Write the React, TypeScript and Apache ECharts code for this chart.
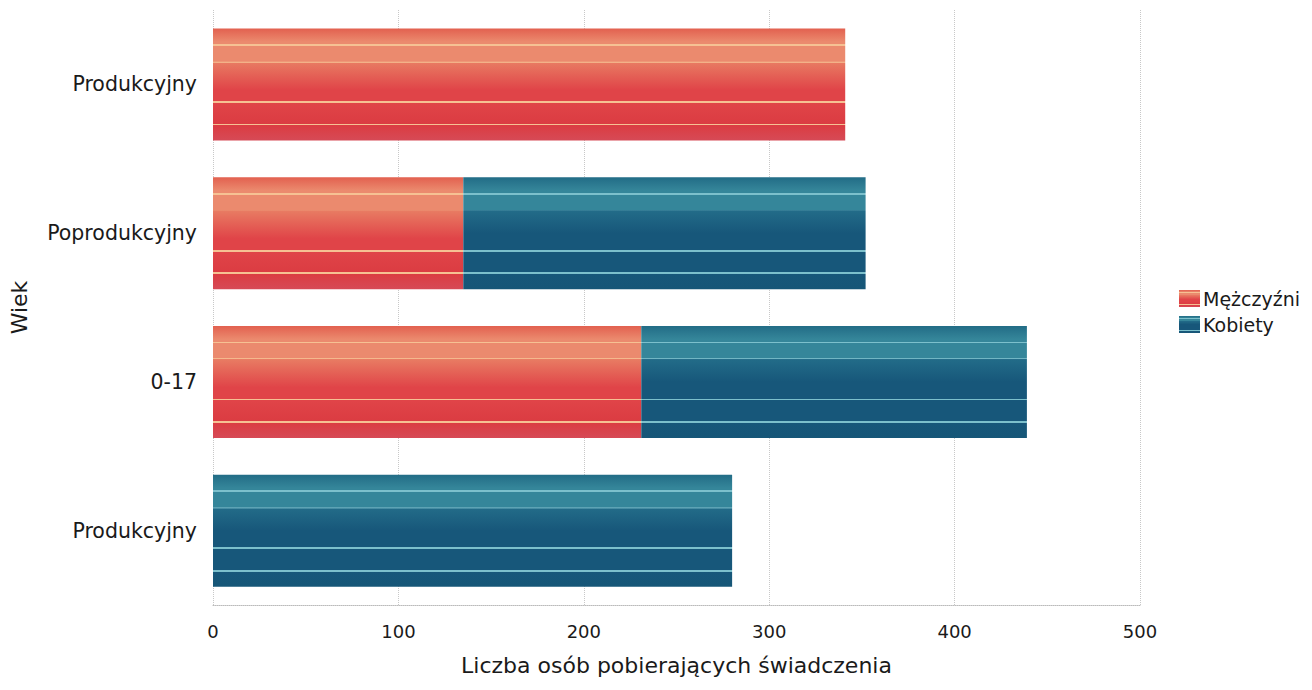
import React, { useEffect, useRef } from "react";
import * as echarts from "echarts";

const categories = ["Produkcyjny", "Poprodukcyjny", "0-17", "Produkcyjny"];
const seriesNames = ["Mężczyźni", "Kobiety"];
const menValues = [341, 135, 231, 0];
const womenValues = [0, 217, 208, 280];
const xTicks = { min: 0, max: 500, interval: 100 };
const xAxisName = "Liczba osób pobierających świadczenia";
const yAxisName = "Wiek";

function striped(base: [number, string][], line: string) {
  const lines = [0.14, 0.29, 0.65, 0.85];
  const w = 0.016;
  const pick = (o: number) => {
    for (let i = 0; i < base.length - 1; i++) {
      if (o >= base[i][0] && o <= base[i + 1][0]) return base[i][1];
    }
    return base[base.length - 1][1];
  };
  const stops: { offset: number; color: string }[] = [];
  base.forEach(([o, c]) => stops.push({ offset: o, color: c }));
  lines.forEach((l) => {
    stops.push({ offset: l, color: pick(l) });
    stops.push({ offset: l + 0.0001, color: line });
    stops.push({ offset: l + w, color: line });
    stops.push({ offset: l + w + 0.0001, color: pick(l + w) });
  });
  stops.sort((a, b) => a.offset - b.offset);
  return new echarts.graphic.LinearGradient(0, 0, 0, 1, stops);
}

const redBase: [number, string][] = [
  [0, "#e2604f"],
  [0.12, "#eb8a6e"],
  [0.3, "#e87a62"],
  [0.55, "#e04448"],
  [0.85, "#db3c42"],
  [1, "#d64a56"],
];
const blueBase: [number, string][] = [
  [0, "#226c86"],
  [0.12, "#35869a"],
  [0.3, "#226b88"],
  [0.5, "#17577a"],
  [1, "#165677"],
];

export default function App() {
  const ref = useRef<HTMLDivElement>(null);
  useEffect(() => {
    if (!ref.current) return;
    const chart = echarts.init(ref.current, undefined, { renderer: "svg" });
    const font = "DejaVu Sans";
    chart.setOption({
      animation: false,
      textStyle: { fontFamily: font },
      grid: { left: 205, right: 164, top: 2, height: 595, outerBoundsMode: "none", containLabel: false },
      legend: {
        orient: "vertical",
        left: 1166,
        top: 276,
        itemWidth: 21,
        itemHeight: 17,
        itemGap: 7,
        icon: "rect",
        textStyle: { fontSize: 19, color: "#1a1a1a", fontFamily: font, padding: [0, 0, 0, -2] },
        data: seriesNames,
      },
      xAxis: {
        type: "value",
        min: xTicks.min,
        max: xTicks.max,
        interval: xTicks.interval,
        name: xAxisName,
        nameLocation: "middle",
        nameGap: 49,
        nameTextStyle: { fontSize: 22, color: "#1a1a1a", fontFamily: font },
        axisLine: { show: true, lineStyle: { color: "#bbb", type: "dotted" } },
        axisTick: { show: false },
        axisLabel: { fontSize: 18, color: "#1a1a1a", margin: 17, fontFamily: font },
        splitLine: { show: true, lineStyle: { color: "#c8c8c8", type: "dotted" } },
      },
      yAxis: {
        type: "category",
        inverse: true,
        data: categories,
        name: yAxisName,
        nameLocation: "middle",
        nameGap: 183,
        nameRotate: 90,
        nameTextStyle: { fontSize: 22, color: "#1a1a1a", fontFamily: font },
        axisLine: { show: false },
        axisTick: { show: false },
        axisLabel: { fontSize: 20.5, color: "#1a1a1a", margin: 16, fontFamily: font },
        splitLine: { show: false },
      },
      series: [
        {
          name: seriesNames[0],
          type: "bar",
          stack: "total",
          barWidth: 112,
          data: menValues,
          itemStyle: { color: striped(redBase, "#f6c193") },
        },
        {
          name: seriesNames[1],
          type: "bar",
          stack: "total",
          barWidth: 112,
          data: womenValues,
          itemStyle: { color: striped(blueBase, "#7cc0cc") },
        },
      ],
    });
    return () => chart.dispose();
  }, []);
  return <div ref={ref} style={{ width: 1296, height: 674 }} />;
}
